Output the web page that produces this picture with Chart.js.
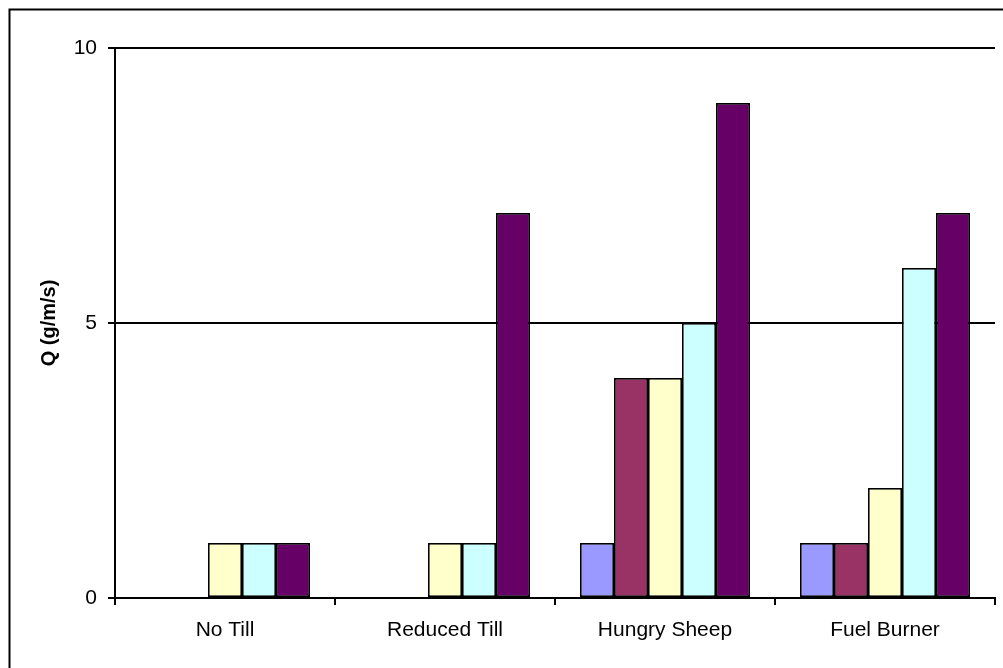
<!DOCTYPE html>
<html>
<head>
<meta charset="utf-8">
<script src="https://cdn.jsdelivr.net/npm/chart.js@4/dist/chart.umd.min.js"></script>
<style>
  html, body { margin: 0; padding: 0; background: #fff; }
  #wrap { width: 1003px; height: 668px; }
</style>
</head>
<body>
<div id="wrap"><canvas id="c" width="1003" height="668"></canvas></div>
<script>
// Emission rates per management scenario
const categories = ['No Till', 'Reduced Till', 'Hungry Sheep', 'Fuel Burner'];
const series1 = [0, 0, 1, 1];
const series2 = [0, 0, 4, 1];
const series3 = [1, 1, 4, 2];
const series4 = [1, 1, 5, 6];
const series5 = [1, 7, 9, 7];
const yTicks = [0, 5, 10];
const yTitle = 'Q (g/m/s)';

const seriesColors = ['#9999FF', '#993366', '#FFFFCC', '#CCFFFF', '#660066'];
const seriesValues = [series1, series2, series3, series4, series5];

const FONT = 'Arial, "Liberation Sans", sans-serif';

// Outer chart frame (top and left edges)
const framePlugin = {
  id: 'frame',
  beforeDraw(chart) {
    const ctx = chart.ctx;
    ctx.save();
    ctx.fillStyle = '#fff';
    ctx.fillRect(0, 0, chart.width, chart.height);
    ctx.strokeStyle = '#000';
    ctx.lineWidth = 2;
    ctx.beginPath();
    ctx.moveTo(9.5, chart.height);
    ctx.lineTo(9.5, 9.5);
    ctx.lineTo(chart.width, 9.5);
    ctx.stroke();
    ctx.restore();
  }
};

new Chart(document.getElementById('c'), {
  type: 'bar',
  data: {
    labels: categories,
    datasets: seriesValues.map((vals, i) => ({
      label: 'Series ' + (i + 1),
      data: vals,
      backgroundColor: seriesColors[i],
      borderColor: '#000',
      borderWidth: 1.75,
      borderSkipped: false,
      categoryPercentage: 170 / 220,
      barPercentage: 1.0
    }))
  },
  options: {
    responsive: false,
    animation: false,
    layout: { padding: { left: 0, top: 48, right: 8, bottom: 0 } },
    plugins: {
      legend: { display: false },
      tooltip: { enabled: false }
    },
    scales: {
      x: {
        grid: {
          offset: true,
          drawOnChartArea: false,
          drawTicks: true,
          tickLength: 7,
          color: '#000',
          lineWidth: 2
        },
        border: { display: true, color: '#000', width: 2 },
        ticks: {
          color: '#000',
          font: { family: FONT, size: 21 },
          padding: 13,
          maxRotation: 0
        },
        afterFit(scale) { scale.height = 70; }
      },
      y: {
        min: 0,
        max: 10,
        afterBuildTicks(scale) { scale.ticks = yTicks.map(v => ({ value: v })); },
        grid: {
          drawTicks: true,
          tickLength: 7,
          color: '#000',
          lineWidth: 2
        },
        border: { display: true, color: '#000', width: 2 },
        ticks: {
          color: '#000',
          font: { family: FONT, size: 21 },
          padding: 11
        },
        title: {
          display: true,
          text: yTitle,
          color: '#000',
          font: { family: FONT, size: 20, weight: 'bold' },
          padding: { top: 37, bottom: 0 }
        },
        afterFit(scale) { scale.width = 115; }
      }
    }
  },
  plugins: [framePlugin]
});
</script>
</body>
</html>
